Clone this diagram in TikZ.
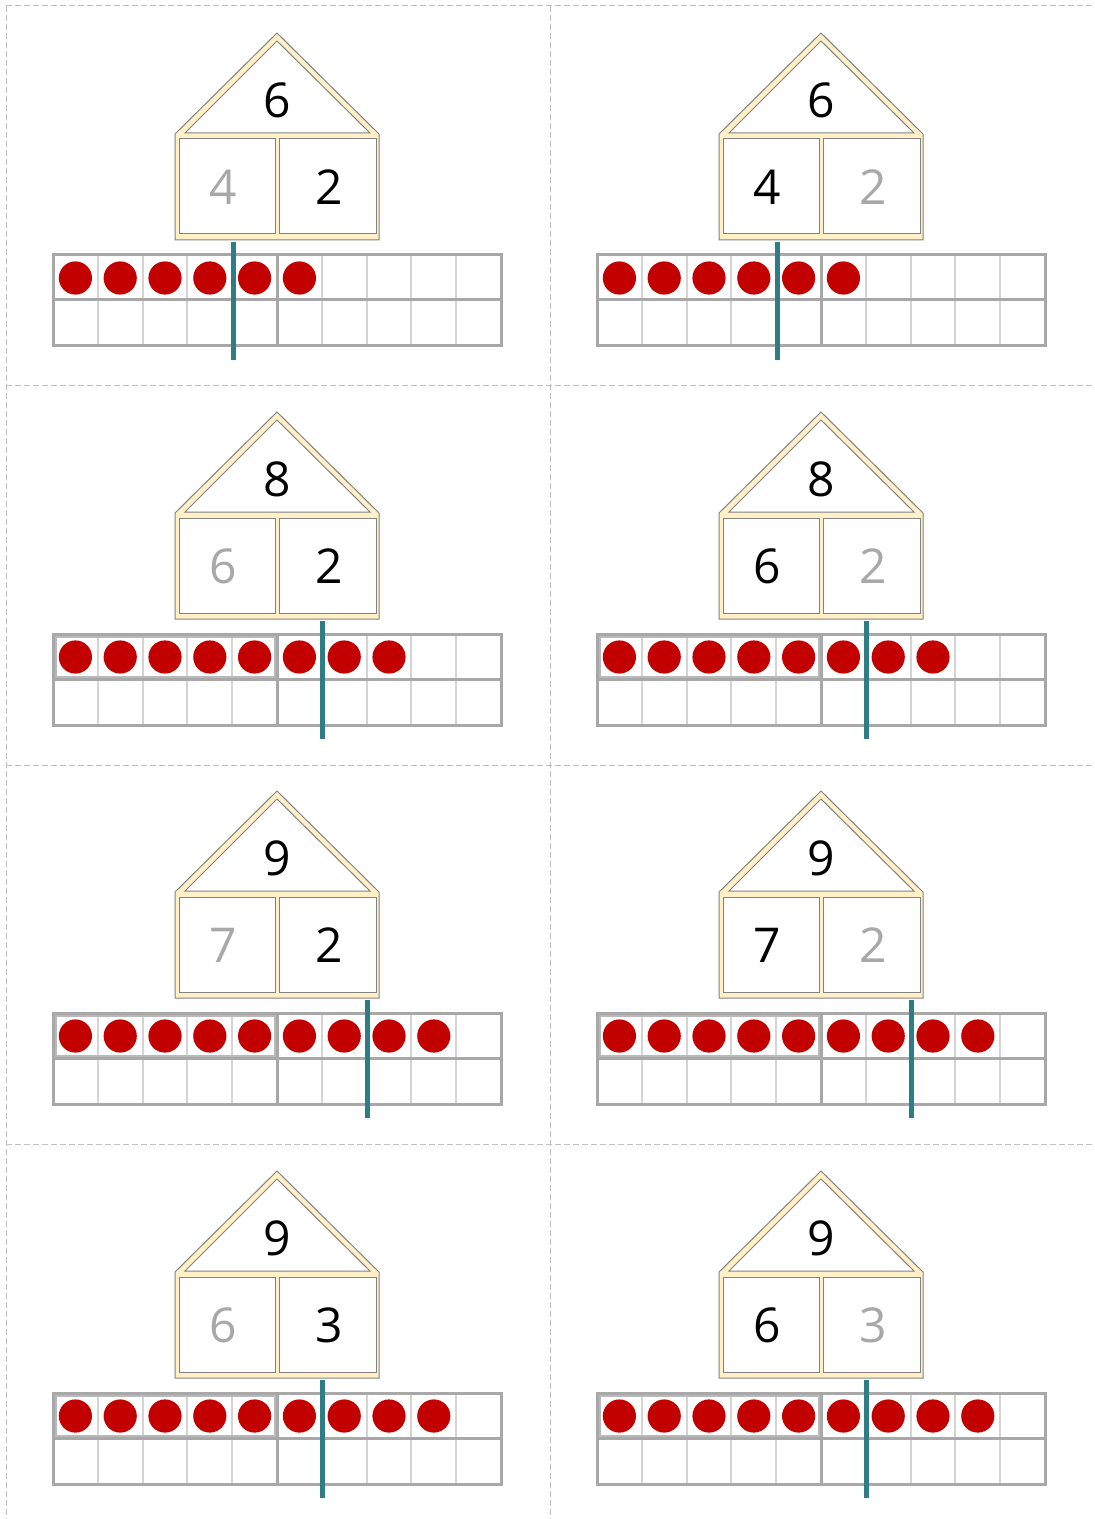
\documentclass[tikz,border=0pt]{standalone}
\usepackage{fontspec}
\setmainfont{Open Sans}
\definecolor{cream}{RGB}{255,240,200}
\definecolor{hgray}{RGB}{130,130,130}
\definecolor{fgray}{RGB}{168,168,168}
\definecolor{lgray}{RGB}{212,212,212}
\definecolor{dotred}{RGB}{194,0,0}
\definecolor{tealline}{RGB}{45,124,134}
\definecolor{numgray}{RGB}{168,168,168}
\definecolor{cutgray}{RGB}{192,192,192}
\tikzset{
  housebody/.style={fill=cream,draw=hgray,line width=0.5pt},
  room/.style={fill=white,draw=hgray,line width=0.5pt},
  num/.style={inner sep=0pt,font=\fontsize{24}{28}\selectfont},
  frameouter/.style={draw=fgray,line width=1.5pt},
  framethin/.style={draw=lgray,line width=1pt},
  innerbox/.style={draw=fgray!80,line width=0.8pt},
  cutline/.style={draw=cutgray,line width=0.5pt,dash pattern=on 3pt off 1.5pt},
  splitline/.style={draw=tealline,line width=2.5pt},
}
% #1 dx, #2 dy, #3 top, #4 left, #5 right, #6 left colour, #7 right colour, #8 dots, #9 split
\newcommand\partcard[9]{%
\begin{scope}[shift={(#1,#2)}]
  \filldraw[housebody] (175,134) -- (277,33) -- (379,134) -- (379,240) -- (175,240) -- cycle;
  \filldraw[room] (185,133) -- (277,41) -- (370,133) -- cycle;
  \filldraw[room] (179,139) rectangle (275,234);
  \filldraw[room] (279,139) rectangle (376,234);
  \node[num] (top#1x#2) at (277,100) {#3};
  \node[num,text=#6] (left#1x#2) at (223,187) {#4};
  \node[num,text=#7] (right#1x#2) at (329,187) {#5};
  \fill[white] (53,255) rectangle (501,346);
  \foreach \k in {1,2,3,4,6,7,8,9}{
    \draw[framethin] ({53+44.8*\k},255) -- ({53+44.8*\k},346);
  }
  \ifnum#2>0 \draw[innerbox] (56,258) rectangle (275,298);\fi
  \draw[frameouter] (53,300) -- (501,300);
  \draw[frameouter] (277,255) -- (277,346);
  \draw[frameouter] (53,255) rectangle (501,346);
  \foreach \i in {1,...,#8}{
    \fill[dotred] ({53+44.8*\i-22.4},278) circle[radius=8.3pt];
  }
  \draw[splitline] ({54+44.8*#9},242) -- ({54+44.8*#9},360);
\end{scope}}
\begin{document}
\begin{tikzpicture}[x=0.5pt,y=-0.5pt]
\useasboundingbox (0,0) rectangle (1094,1519);
\fill[white] (0,0) rectangle (1094,1519);
% cut lines
\draw[cutline] (6,6) -- (1094,6);
\draw[cutline] (6,385) -- (1094,385);
\draw[cutline] (6,765) -- (1094,765);
\draw[cutline] (6,1144) -- (1094,1144);
\draw[cutline] (6,6) -- (6,1519);
\draw[cutline] (550,6) -- (550,1519);
% cards
\partcard{0}{0}{6}{4}{2}{numgray}{black}{6}{4}
\partcard{544}{0}{6}{4}{2}{black}{numgray}{6}{4}
\partcard{0}{379}{8}{6}{2}{numgray}{black}{8}{6}
\partcard{544}{379}{8}{6}{2}{black}{numgray}{8}{6}
\partcard{0}{758}{9}{7}{2}{numgray}{black}{9}{7}
\partcard{544}{758}{9}{7}{2}{black}{numgray}{9}{7}
\partcard{0}{1138}{9}{6}{3}{numgray}{black}{9}{6}
\partcard{544}{1138}{9}{6}{3}{black}{numgray}{9}{6}
\end{tikzpicture}
\end{document}
